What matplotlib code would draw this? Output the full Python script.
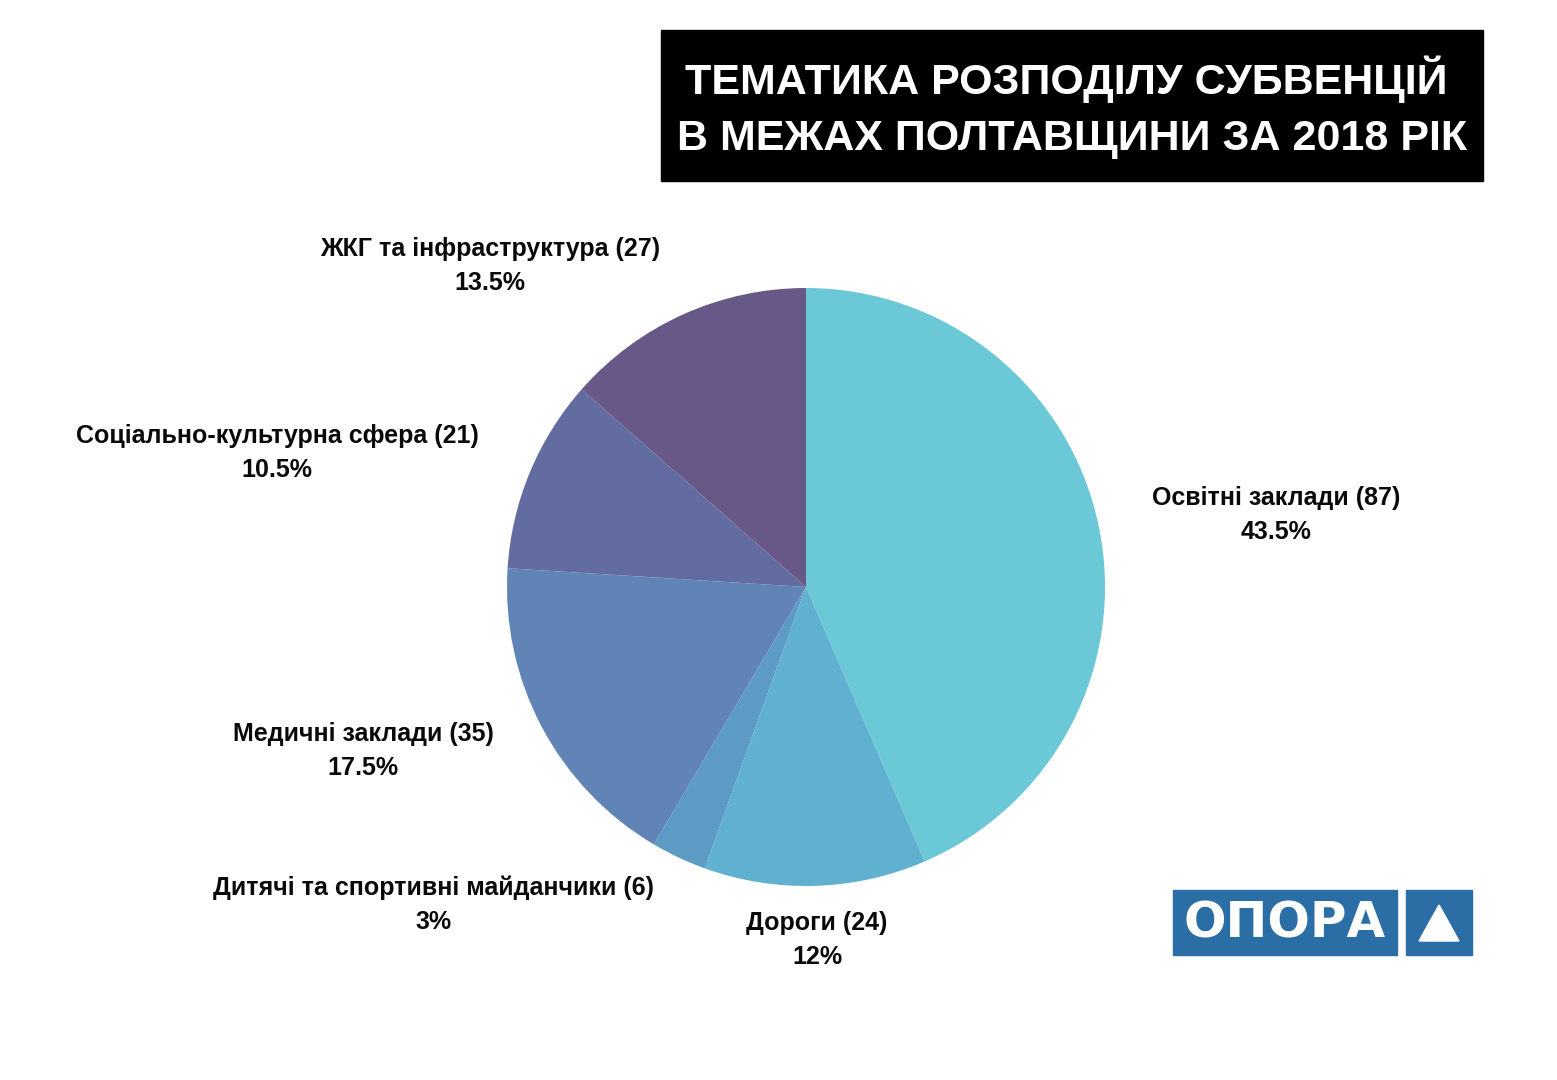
import matplotlib
matplotlib.use("Agg")
import matplotlib.pyplot as plt
from matplotlib.patches import Rectangle, Polygon

plt.rcParams["font.family"] = ["Liberation Sans", "DejaVu Sans"]

# data
categories = [
    "Освітні заклади",
    "Дороги",
    "Дитячі та спортивні майданчики",
    "Медичні заклади",
    "Соціально-культурна сфера",
    "ЖКГ та інфраструктура",
]
counts = [87, 24, 6, 35, 21, 27]
shares = ["43.5%", "12%", "3%", "17.5%", "10.5%", "13.5%"]
colors = ["#6BC8D6", "#5FB1CF", "#5B9BC4", "#5F84B5", "#626CA1", "#675888"]

title = "ТЕМАТИКА РОЗПОДІЛУ СУБВЕНЦІЙ \nВ МЕЖАХ ПОЛТАВЩИНИ ЗА 2018 РІК"

W, H = 1557, 1080
cx, cy, r = 806, H - 587, 299

# label anchor points (pixel layout, offset from the pie centre)
label_pos = [(470, 72), (11, -353), (-372, -318), (-443, -164), (-529, 134), (-316, 321)]

fig = plt.figure(figsize=(W / 100, H / 100), dpi=100)
ax = fig.add_axes([0, 0, 1, 1])

ax.pie(counts, colors=colors, startangle=90, counterclock=False,
       center=(cx, cy), radius=r, wedgeprops=dict(linewidth=0))

for name, n, s, (dx, dy) in zip(categories, counts, shares, label_pos):
    ax.text(cx + dx, cy + dy, f"{name} ({n})\n{s}", ha="center", va="center",
            fontsize=18, fontweight="bold", color="#0a0a0a", linespacing=1.55)

# title box
ax.add_patch(Rectangle((661, H - 181), 822, 151, color="black"))
ax.text(1072, H - 107, title, ha="center", va="center", color="white",
        fontsize=31, fontweight="bold", linespacing=1.52)

# logo
blue = "#2A6EA5"
ax.add_patch(Rectangle((1173, H - 955), 224, 65, color=blue))
ax.add_patch(Rectangle((1406, H - 955), 66, 65, color=blue))
ax.text(1285, H - 923, "ОПОРА", ha="center", va="center", color="white",
        fontsize=36, fontweight="bold", family="DejaVu Sans")
ax.add_patch(Polygon([(1419, H - 941), (1459, H - 941), (1439, H - 905)],
                     closed=True, color="white"))

ax.set_xlim(0, W)
ax.set_ylim(0, H)
ax.set_aspect("equal")
ax.axis("off")

fig.savefig("out.png", dpi=100, facecolor="white")
